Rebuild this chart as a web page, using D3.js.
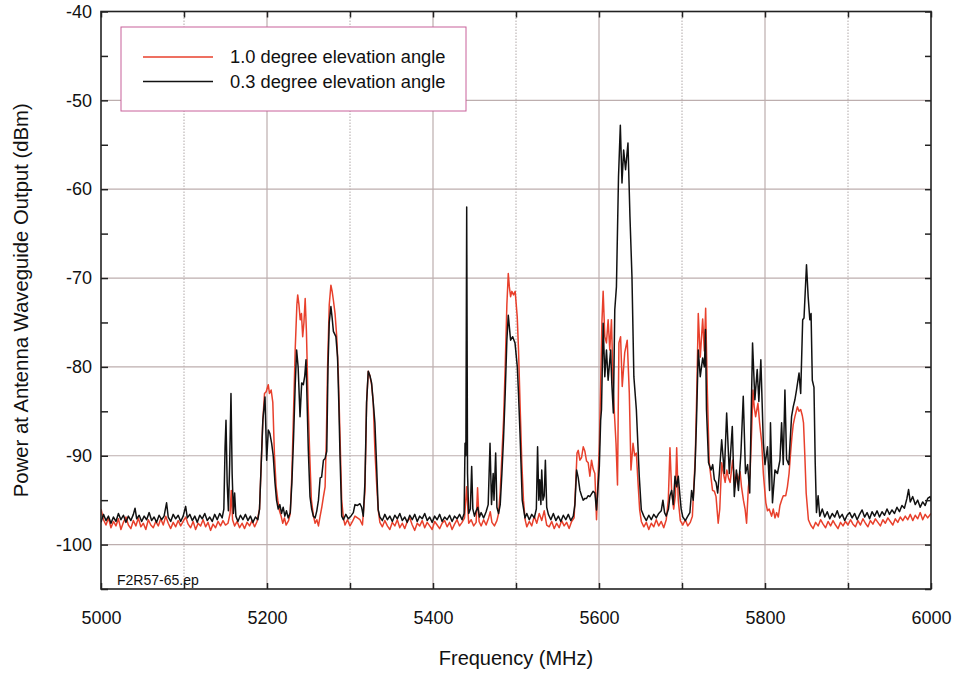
<!DOCTYPE html>
<html><head><meta charset="utf-8">
<script src="https://cdn.jsdelivr.net/npm/d3@7"></script>
<style>
html,body{margin:0;padding:0;background:#fff;}
svg{display:block;font-family:"Liberation Sans",Arial,Helvetica,sans-serif;}
</style></head>
<body><svg id="chart" width="956" height="674"></svg>
<script>
// ---- data ----
const xDomain = [5000, 6000];
const yDomain = [-105, -40];
const xTicks = [5000,5100,5200,5300,5400,5500,5600,5700,5800,5900,6000];
const xLabelTicks = [5000,5200,5400,5600,5800,6000];
const xMajorGrid = [5200,5400,5600,5800];
const xMinorGrid = [5100,5300,5500,5700,5900];
const yTicks = [-105,-100,-95,-90,-85,-80,-75,-70,-65,-60,-55,-50,-45,-40];
const yLabelTicks = [-100,-90,-80,-70,-60,-50,-40];
const yGrid = [-100,-90,-80,-70,-60,-50];
const seriesNames = ["1.0 degree elevation angle", "0.3 degree elevation angle"];
const fileTag = "F2R57-65.ep";

// 1.0 degree elevation angle: [frequency MHz, power dBm]
const power10deg = [
[5000,-96.0],[5003,-97.2],[5006,-97.8],[5009,-97.0],[5012,-98.1],[5015,-97.4],[5018,-97.9],[5021,-97.1],[5024,-98.3],[5027,-97.5],
[5030,-96.9],[5033,-97.8],[5036,-98.2],[5039,-97.3],[5042,-97.9],[5045,-97.0],[5048,-98.0],[5051,-97.6],[5054,-98.3],[5057,-97.2],
[5060,-97.8],[5063,-98.1],[5066,-97.4],[5069,-97.9],[5072,-97.1],[5075,-97.8],[5078,-96.8],[5081,-97.6],[5084,-98.2],[5087,-97.5],
[5090,-98.0],[5093,-97.3],[5096,-97.9],[5099,-97.4],[5102,-96.9],[5105,-97.7],[5108,-98.1],[5111,-97.4],[5114,-98.3],[5117,-97.6],
[5120,-97.9],[5123,-97.2],[5126,-98.0],[5129,-97.5],[5132,-98.4],[5135,-97.7],[5138,-98.1],[5141,-97.4],[5144,-97.9],[5147,-97.3],
[5150,-97.8],[5153,-97.6],[5155.5,-96.5],[5157,-93.9],[5158.5,-97.2],[5161,-97.9],[5164,-97.4],[5167,-98.1],[5170,-97.6],[5173,-98.2],
[5176,-97.5],[5179,-97.9],[5182,-97.3],[5185,-98.0],[5188,-97.4],
[5191,-96.0],[5193,-91.0],[5195,-86.0],[5197,-83.0],[5199,-82.8],[5201.5,-82.0],[5203,-83.0],[5205,-82.6],[5207,-84.0],[5209,-90.0],
[5211,-93.5],[5213,-95.0],[5215,-96.2],[5217,-96.8],[5219,-97.6],[5221,-97.0],[5223,-97.8],[5226,-97.3],[5228,-96.5],
[5230,-92.0],[5232,-85.0],[5234,-78.0],[5236,-73.0],[5237,-71.9],[5238.5,-73.0],[5240,-74.7],[5241.5,-74.0],[5243,-76.6],[5244.5,-75.0],
[5246,-72.3],[5247.5,-76.0],[5249.5,-84.0],[5251.5,-90.0],[5253.5,-95.0],[5256,-96.8],[5258,-97.6],[5260,-97.2],[5262,-97.9],[5264,-96.8],
[5266,-95.8],[5268,-94.6],[5270,-93.5],[5271.5,-88.0],[5273,-80.0],[5275,-73.0],[5277,-70.8],[5278.5,-71.5],[5280,-72.5],[5282,-74.0],
[5284,-76.6],[5286,-81.0],[5288,-87.9],[5290,-95.0],[5292,-97.0],[5294,-97.8],[5297,-97.2],[5300,-97.9],[5303,-97.4],[5306,-96.8],
[5309,-97.0],[5312,-97.2],[5315,-97.8],[5318,-94.0],[5320,-84.0],[5322,-80.5],[5324,-81.0],[5326,-82.0],[5328,-84.0],[5330,-89.4],
[5332,-93.0],[5334,-96.1],[5336,-97.5],[5339,-98.0],
[5342,-97.3],[5345,-97.9],[5348,-98.3],[5351,-97.5],[5354,-97.9],[5357,-97.2],[5360,-98.1],[5363,-97.6],[5366,-98.2],[5369,-97.4],
[5372,-97.0],[5375,-97.8],[5378,-98.4],[5381,-97.6],[5384,-97.9],[5387,-97.3],[5390,-98.1],[5393,-97.5],[5396,-97.9],[5399,-98.3],
[5402,-97.4],[5405,-97.8],[5408,-98.2],[5411,-97.6],[5414,-97.3],[5417,-98.0],[5420,-97.5],[5423,-98.3],[5426,-97.7],[5429,-97.2],
[5432,-97.9],[5435,-97.5],[5438,-97.0],[5440.5,-93.5],[5443,-97.6],[5446,-97.2],[5449,-97.9],[5452,-97.5],[5453.7,-93.6],[5455.5,-97.4],
[5458,-97.9],[5461,-97.2],[5464,-97.8],[5467,-97.0],[5469,-96.3],[5471,-97.5],[5474,-97.9],[5477,-97.3],[5479,-96.5],
[5481,-94.0],[5483,-90.0],[5485,-86.0],[5487,-80.0],[5489,-73.0],[5490.7,-69.5],[5492,-71.0],[5493.5,-72.1],[5495,-71.5],[5497,-71.9],
[5499,-71.5],[5501.5,-74.4],[5503,-78.0],[5505,-84.5],[5507,-90.8],[5509,-95.0],[5511,-97.2],[5513,-98.0],[5516,-97.4],[5519,-97.9],
[5522,-96.8],[5525,-97.6],[5528,-96.5],[5531,-97.3],[5534,-96.2],[5537,-97.8],[5540,-98.0],[5543,-97.4],[5546,-98.2],[5549,-97.6],
[5552,-98.1],[5555,-97.3],[5558,-97.9],[5561,-97.5],[5564,-98.2],[5567,-97.4],[5570,-97.0],
[5572,-93.0],[5573.5,-89.7],[5575,-89.4],[5577,-90.5],[5579,-90.2],[5581,-89.0],[5583,-89.5],[5585,-90.6],[5587,-90.8],[5589,-92.3],
[5591,-90.5],[5593,-91.5],[5595,-92.0],[5597,-97.2],[5599,-92.0],[5600.5,-88.6],[5602,-82.0],[5603.5,-75.0],[5605,-71.5],[5607,-76.6],
[5609,-77.3],[5611,-74.7],[5613,-78.1],[5615,-74.7],[5617.3,-83.0],[5619,-86.0],[5620.5,-88.6],[5622.3,-93.3],[5624,-77.3],[5626,-76.6],
[5628,-82.2],[5631,-78.4],[5634,-77.0],[5636.5,-82.9],[5638.5,-91.6],[5641,-88.6],[5643,-90.0],[5645,-89.7],[5647,-93.0],[5649,-96.1],
[5651,-97.4],[5654,-98.0],[5657,-97.5],[5660,-98.3],[5663,-97.6],[5666,-98.0],[5669,-97.2],[5672,-97.9],[5675,-97.4],[5678,-98.1],
[5681,-97.2],[5683.5,-95.0],[5685.5,-89.1],[5687.5,-94.0],[5690,-96.0],[5692,-94.5],[5693.6,-89.1],[5695.5,-95.0],[5698,-97.3],[5701,-97.8],
[5704,-97.2],[5707,-97.9],[5710,-97.5],[5712.5,-96.8],[5714.5,-93.0],[5716,-90.1],[5718,-82.0],[5719.6,-74.0],[5722,-78.9],[5724.9,-74.6],
[5726.9,-78.2],[5728.5,-73.4],[5730.5,-82.6],[5732.8,-90.8],[5735,-92.5],[5736.8,-93.9],[5739,-94.0],[5741,-94.6],[5743.6,-97.6],[5745.5,-96.0],
[5747.8,-90.8],[5750,-92.0],[5752,-93.0],[5754,-91.6],[5756,-92.5],[5758,-93.0],[5761,-90.5],[5764,-93.5],[5766,-92.0],[5768,-92.8],
[5770,-91.8],[5771.7,-93.5],[5774,-95.0],[5776,-96.0],[5777.8,-97.6],[5780,-93.5],[5782,-92.0],[5784,-87.0],[5785.5,-82.6],[5787,-84.5],
[5788.7,-85.6],[5791.5,-84.1],[5793.5,-86.3],[5796,-88.5],[5798,-92.0],[5801,-95.3],[5803,-96.2],[5805,-96.0],[5808,-96.8],[5810,-96.0],
[5812,-97.0],[5814,-96.4],[5816,-96.9],[5818,-95.6],[5820,-95.0],[5822,-94.5],[5825,-94.5],[5827,-93.5],[5829,-92.0],[5831,-89.5],
[5832.4,-87.9],[5834,-86.5],[5836,-85.6],[5839,-84.5],[5841,-85.0],[5843,-84.8],[5845,-85.5],[5846.4,-86.3],[5848,-90.0],[5849.6,-94.2],
[5852.3,-97.2],[5855,-97.8],[5858,-98.2],[5861,-97.5],[5864,-97.9],[5867,-97.2],[5870,-97.7],[5873,-98.1],[5876,-97.4],[5879,-97.9],
[5882,-97.3],[5885,-97.8],[5888,-98.2],[5891,-97.5],[5894,-97.9],[5897,-97.4],[5900,-97.8],[5903,-97.2],[5906,-97.7],[5909,-98.0],
[5912,-97.3],[5915,-97.8],[5918,-97.1],[5921,-97.6],[5924,-98.0],[5927,-97.3],[5930,-97.7],[5933,-97.1],[5936,-97.5],[5939,-97.9],
[5942,-97.2],[5945,-97.6],[5948,-97.0],[5951,-97.4],[5954,-97.8],[5957,-97.1],[5960,-97.5],[5963,-96.9],[5966,-97.3],[5969,-96.8],
[5972,-97.2],[5975,-96.6],[5978,-97.3],[5981,-96.7],[5984,-97.1],[5987,-96.4],[5990,-97.2],[5993,-96.6],[5996,-97.0],[6000,-96.5]
];

// 0.3 degree elevation angle: [frequency MHz, power dBm]
const power03deg = [
[5000,-97.5],[5003,-96.6],[5006,-97.3],[5009,-96.8],[5012,-97.6],[5015,-96.9],[5018,-97.4],[5021,-96.5],[5024,-97.2],[5027,-96.7],
[5030,-97.5],[5033,-96.8],[5036,-97.3],[5039,-96.6],[5041,-95.9],[5043,-97.1],[5046,-96.7],[5049,-97.4],[5052,-96.8],[5055,-97.2],
[5058,-96.4],[5061,-97.3],[5064,-96.9],[5067,-97.5],[5070,-96.7],[5073,-97.2],[5076,-96.8],[5079,-95.3],[5081,-96.9],[5084,-97.4],
[5087,-96.6],[5090,-97.1],[5093,-96.7],[5096,-97.4],[5099,-96.8],[5102,-95.7],[5104,-97.0],[5107,-96.6],[5110,-97.3],[5113,-96.8],
[5116,-97.5],[5119,-96.7],[5122,-97.1],[5125,-96.5],[5128,-97.3],[5131,-96.9],[5134,-97.4],[5137,-96.6],[5140,-97.2],[5143,-96.5],
[5146,-97.0],[5148,-96.0],[5149.5,-89.0],[5150.6,-86.0],[5152,-93.0],[5153.5,-96.2],[5155,-91.0],[5156.6,-83.0],[5158,-92.0],[5159.5,-96.5],
[5161,-94.2],[5162.5,-96.8],[5165,-97.4],[5168,-96.7],[5171,-97.2],[5174,-96.6],[5177,-97.3],[5180,-96.8],[5183,-97.5],[5186,-96.9],
[5189,-97.2],
[5191,-96.0],[5193,-91.0],[5195,-86.0],[5197.6,-83.4],[5199.6,-90.5],[5201.6,-87.1],[5203.5,-87.5],[5205.6,-88.6],[5207.5,-90.0],[5209.6,-93.0],
[5211.5,-95.0],[5213.5,-96.0],[5215.5,-95.5],[5217.5,-96.5],[5219.5,-95.8],[5221.5,-96.8],[5223.5,-96.2],[5225.5,-97.0],[5228,-96.4],
[5230,-93.0],[5232,-88.0],[5234,-82.0],[5235.7,-78.1],[5237.5,-80.0],[5239.8,-85.6],[5241.8,-81.8],[5243.8,-82.0],[5245.5,-81.0],[5247,-79.2],
[5249.8,-89.4],[5251.8,-94.6],[5253.8,-96.0],[5255.8,-96.8],[5258,-97.0],[5260,-96.2],[5262,-95.0],[5264,-92.5],[5265.8,-92.4],[5268,-90.5],
[5270,-90.3],[5272,-89.5],[5273.5,-80.0],[5275,-75.0],[5277,-73.2],[5278.5,-74.5],[5280,-76.0],[5283,-76.6],[5285,-78.9],[5286.5,-84.0],
[5288,-90.1],[5290,-96.8],[5292,-97.2],[5295,-96.6],[5298,-97.1],[5301,-96.8],[5304,-96.4],[5306,-95.5],[5309,-95.6],[5312,-95.4],
[5314,-95.8],[5316,-96.8],[5318,-93.0],[5320,-84.0],[5322,-80.5],[5324,-81.0],[5326,-81.8],[5328,-84.0],[5330,-86.3],[5332,-91.0],
[5334,-96.1],[5336,-96.9],[5339,-97.3],
[5342,-96.6],[5345,-97.2],[5348,-96.8],[5351,-97.4],[5354,-96.7],[5357,-97.1],[5360,-96.5],[5363,-97.3],[5366,-96.9],[5369,-97.5],
[5372,-96.7],[5375,-97.2],[5378,-96.6],[5381,-97.4],[5384,-96.8],[5387,-97.1],[5390,-96.5],[5393,-97.3],[5396,-96.9],[5399,-97.5],
[5402,-96.8],[5405,-97.2],[5408,-96.6],[5411,-97.4],[5414,-96.9],[5417,-97.2],[5420,-96.7],[5423,-97.4],[5426,-96.8],[5429,-97.1],
[5432,-96.6],[5435,-97.2],[5437.5,-96.5],[5438.6,-88.6],[5439.6,-90.0],[5440.6,-62.0],[5441.6,-92.0],[5443,-96.5],[5445,-96.0],[5446.6,-91.2],
[5448,-96.0],[5450,-96.8],[5452,-96.2],[5454,-95.8],[5456,-96.9],[5458,-96.4],[5461,-97.0],[5464,-96.3],[5466.5,-95.5],[5468.7,-88.6],
[5470.5,-95.5],[5472.5,-92.0],[5473.5,-95.0],[5475.5,-89.7],[5477,-95.8],[5479,-96.5],
[5481,-95.5],[5483,-92.0],[5485,-88.0],[5487,-83.0],[5489,-77.0],[5490.7,-74.2],[5492,-75.5],[5493.5,-77.0],[5496,-76.6],[5498.8,-77.3],
[5501.6,-80.0],[5503,-83.0],[5504.8,-87.4],[5507.5,-95.0],[5510.8,-97.0],[5513,-96.5],[5516,-97.2],[5519,-96.6],[5522,-97.0],[5524.5,-96.0],
[5526,-89.0],[5527.5,-95.0],[5528.7,-92.7],[5530,-95.5],[5531,-91.6],[5532.5,-95.0],[5534,-94.5],[5535.4,-90.5],[5537,-95.8],[5539,-96.6],
[5542,-97.2],[5545,-96.5],[5548,-97.3],[5551,-96.8],[5554,-97.4],[5557,-96.7],[5560,-97.2],[5563,-96.6],[5566,-97.3],[5569,-96.8],
[5571,-95.5],[5573,-91.6],[5575,-92.5],[5577,-93.9],[5579,-94.5],[5581,-95.0],[5583,-94.8],[5585,-94.8],[5587,-94.5],[5589,-94.6],
[5591,-94.3],[5593,-94.0],[5595,-94.2],[5597,-96.1],[5598.5,-94.0],[5600.4,-91.2],[5602,-86.0],[5603,-84.8],[5605,-75.1],[5607,-81.1],
[5609,-78.1],[5611,-81.5],[5614,-78.1],[5615.5,-82.0],[5617.3,-85.2],[5619,-73.6],[5621,-71.0],[5623.5,-58.6],[5625.7,-52.8],[5627.7,-59.3],
[5629.7,-55.6],[5632,-57.8],[5634.9,-54.8],[5637.3,-63.1],[5639.7,-69.8],[5642,-81.1],[5645,-84.8],[5648.5,-92.3],[5651,-96.1],[5654,-96.8],
[5657,-97.3],[5660,-96.7],[5663,-97.2],[5666,-96.6],[5669,-97.0],[5672,-96.5],[5675,-96.2],[5677,-95.0],[5679,-96.4],[5681,-96.8],
[5683.7,-96.0],[5685.5,-94.5],[5687.5,-93.9],[5689.5,-95.5],[5691.6,-92.3],[5693.6,-93.5],[5695.5,-92.3],[5697.5,-94.5],[5699,-96.0],[5701,-96.9],
[5704,-97.3],[5707,-96.8],[5709.5,-96.4],[5711.6,-93.9],[5713.5,-95.0],[5715.6,-91.6],[5717.5,-86.0],[5719.6,-78.1],[5722,-81.1],[5724.9,-79.0],
[5727,-80.0],[5728.3,-75.8],[5729.5,-84.8],[5732,-90.8],[5735,-91.6],[5737,-91.0],[5739,-92.7],[5741,-93.0],[5743,-94.2],[5745,-92.0],
[5747.8,-88.2],[5751,-92.0],[5753.8,-85.2],[5757,-92.0],[5760.6,-86.7],[5763,-94.6],[5765.5,-91.6],[5768,-93.9],[5771,-89.7],[5773.8,-83.3],
[5776.5,-92.0],[5779,-91.0],[5781.6,-94.2],[5785,-77.3],[5787.8,-83.7],[5790.6,-80.3],[5792.6,-83.9],[5795,-79.2],[5798,-88.6],[5800,-91.0],
[5803,-89.0],[5805.5,-93.9],[5806.6,-86.3],[5809,-95.3],[5812,-91.6],[5815,-92.0],[5818,-90.5],[5820,-86.3],[5822,-91.0],[5824,-82.6],
[5826,-90.4],[5828.7,-91.0],[5832,-85.6],[5834,-84.5],[5836,-83.7],[5838,-82.6],[5841,-80.7],[5843,-83.0],[5845.4,-74.7],[5847,-74.5],
[5850,-68.5],[5852,-72.1],[5854,-74.7],[5855.5,-74.0],[5857,-81.5],[5859,-82.3],[5860.5,-90.8],[5862,-96.4],[5864,-94.5],[5866,-96.8],
[5869,-96.0],[5872,-96.9],[5875,-96.3],[5878,-97.1],[5881,-96.5],[5884,-96.9],[5887,-96.2],[5890,-97.0],[5893,-96.6],[5896,-97.3],
[5899,-96.7],[5902,-96.4],[5905,-97.0],[5908,-96.5],[5911,-97.2],[5914,-96.6],[5917,-96.1],[5920,-96.9],[5923,-96.4],[5926,-97.1],
[5929,-96.3],[5932,-96.8],[5935,-96.2],[5938,-96.9],[5941,-96.3],[5944,-96.7],[5947,-96.0],[5950,-96.6],[5953,-96.1],[5956,-96.5],
[5959,-95.8],[5962,-96.3],[5965,-95.6],[5968,-95.9],[5971,-94.8],[5973,-93.8],[5975,-95.2],[5978,-94.6],[5981,-95.5],[5984,-95.0],
[5987,-95.8],[5990,-95.2],[5993,-95.6],[5996,-94.8],[5999,-94.6],[6000,-95.0]
];

const seriesColors = ["#e8402c", "#111111"];

// ---- chart ----
const svg = d3.select("#chart");
const L = 101, R = 931, T = 11.5, B = 589;
const x = d3.scaleLinear().domain(xDomain).range([L, R]);
const y = d3.scaleLinear().domain(yDomain).range([B, T]);

const gridColor = "#bdaeae";
svg.append("g").selectAll("line").data(xMajorGrid).join("line")
  .attr("x1", d => x(d)).attr("x2", d => x(d)).attr("y1", T).attr("y2", B)
  .attr("stroke", gridColor).attr("stroke-width", 1.2);
svg.append("g").selectAll("line").data(xMinorGrid).join("line")
  .attr("x1", d => x(d)).attr("x2", d => x(d)).attr("y1", T).attr("y2", B)
  .attr("stroke", "#b0a8a8").attr("stroke-width", 1).attr("stroke-dasharray", "1.5,1.5");
svg.append("g").selectAll("line").data(yGrid).join("line")
  .attr("x1", L).attr("x2", R).attr("y1", d => y(d)).attr("y2", d => y(d))
  .attr("stroke", gridColor).attr("stroke-width", 1.2);

svg.append("clipPath").attr("id", "clip").append("rect")
  .attr("x", L).attr("y", T).attr("width", R - L).attr("height", B - T);

const line = d3.line().x(d => x(d[0])).y(d => y(d[1]));
const plot = svg.append("g").attr("clip-path", "url(#clip)");
plot.append("path").datum(power10deg).attr("d", line)
  .attr("fill", "none").attr("stroke", seriesColors[0]).attr("stroke-width", 1.5).attr("stroke-linejoin", "round");
plot.append("path").datum(power03deg).attr("d", line)
  .attr("fill", "none").attr("stroke", seriesColors[1]).attr("stroke-width", 1.5).attr("stroke-linejoin", "round");

const tickFont = 18;
function styleAxis(g) {
  g.select(".domain").remove();
  g.selectAll(".tick line").attr("stroke", "#222").attr("stroke-width", 1.5);
  g.selectAll("text").attr("font-size", tickFont).attr("fill", "#111")
    .attr("font-family", "'Liberation Sans', Arial, Helvetica, sans-serif");
}
svg.append("g").attr("transform", `translate(0,${B})`)
  .call(d3.axisBottom(x).tickValues(xTicks).tickSize(-6).tickPadding(22)
    .tickFormat(d => xLabelTicks.includes(d) ? String(d) : ""))
  .call(styleAxis);
svg.append("g").attr("transform", `translate(0,${T})`)
  .call(d3.axisTop(x).tickValues(xTicks).tickSize(-6).tickFormat(""))
  .call(styleAxis);
svg.append("g").attr("transform", `translate(${L},0)`)
  .call(d3.axisLeft(y).tickValues(yTicks).tickSize(-7).tickPadding(9)
    .tickFormat(d => yLabelTicks.includes(d) ? String(d) : ""))
  .call(styleAxis);
svg.append("g").attr("transform", `translate(${R},0)`)
  .call(d3.axisRight(y).tickValues(yTicks).tickSize(-6).tickFormat(""))
  .call(styleAxis);

svg.append("rect").attr("x", L).attr("y", T).attr("width", R - L).attr("height", B - T)
  .attr("fill", "none").attr("stroke", "#222").attr("stroke-width", 1.6);

const lg = svg.append("g");
lg.append("rect").attr("x", 121).attr("y", 27).attr("width", 345).attr("height", 84)
  .attr("fill", "#fff").attr("stroke", "#c8609a").attr("stroke-width", 1);
seriesNames.forEach((name, i) => {
  const yy = 57 + i * 24.5;
  lg.append("line").attr("x1", 143).attr("x2", 213).attr("y1", yy).attr("y2", yy)
    .attr("stroke", seriesColors[i]).attr("stroke-width", 1.5);
  lg.append("text").attr("x", 230).attr("y", yy).attr("dy", "0.35em")
    .attr("font-size", 18.3).attr("fill", "#111").text(name);
});

svg.append("text").attr("x", 117).attr("y", 580).attr("dy", "0.35em")
  .attr("font-size", 14).attr("fill", "#111").text(fileTag);

svg.append("text").attr("x", (L + R) / 2).attr("y", 658).attr("dy", "0.35em")
  .attr("text-anchor", "middle").attr("font-size", 20).attr("fill", "#111").text("Frequency (MHz)");
svg.append("text").attr("transform", `translate(21,${(T + B) / 2}) rotate(-90)`)
  .attr("dy", "0.35em").attr("text-anchor", "middle").attr("font-size", 20.3).attr("fill", "#111")
  .text("Power at Antenna Waveguide Output (dBm)");
</script></body></html>
